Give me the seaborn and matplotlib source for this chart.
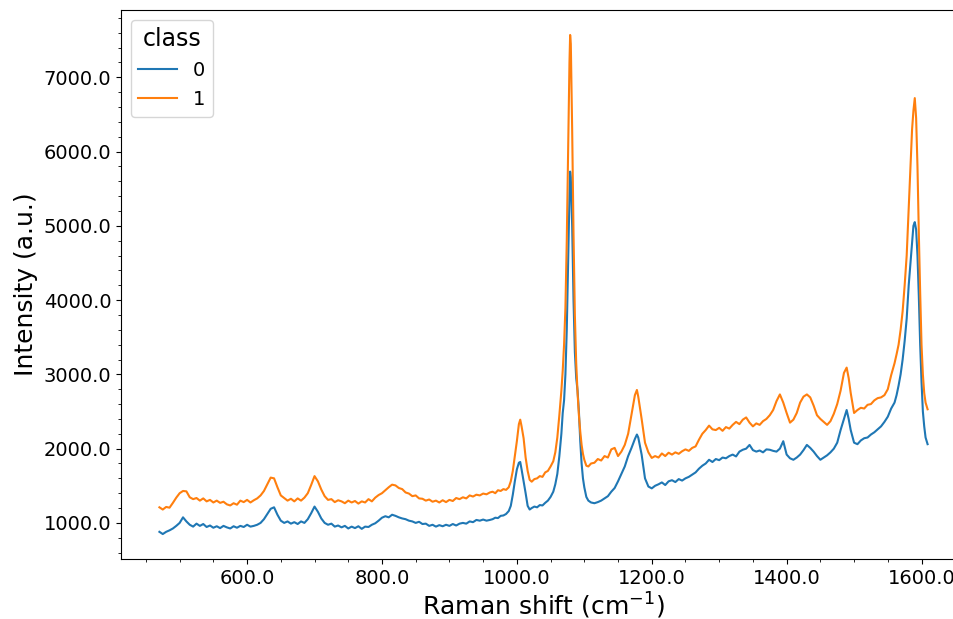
import numpy as np
import pandas as pd
import matplotlib
matplotlib.use("Agg")
import matplotlib.pyplot as plt
from matplotlib.ticker import MultipleLocator, FormatStrFormatter
import seaborn as sns

# Raman shift grid (cm^-1)
shift = [470, 475, 480, 485, 490, 495, 500, 505, 510, 515, 520, 525, 530, 535, 540, 545, 550, 555, 560, 565,
         570, 575, 580, 585, 590, 595, 600, 605, 610, 615, 620, 625, 630, 635, 640, 645, 650, 655, 660, 665,
         670, 675, 680, 685, 690, 695, 700, 705, 710, 715, 720, 725, 730, 735, 740, 745, 750, 755, 760, 765,
         770, 775, 780, 785, 790, 795, 800, 805, 810, 815, 820, 825, 830, 835, 840, 845, 850, 855, 860, 865,
         870, 875, 880, 885, 890, 895, 900, 905, 910, 915, 920, 925, 930, 935, 940, 945, 950, 955, 960,
         964, 968, 972, 976, 980, 984, 988, 991, 994, 997, 1000, 1003, 1005, 1007, 1010, 1013, 1016, 1019, 1022,
         1026, 1030, 1034, 1038, 1042, 1046, 1050, 1054, 1057, 1060, 1063, 1066, 1068, 1070, 1072, 1074, 1076,
         1078, 1079, 1080, 1082, 1084, 1086, 1088, 1090, 1092, 1094, 1096, 1098, 1100, 1103, 1106, 1110,
         1115, 1120, 1125, 1130, 1135, 1140, 1145, 1150, 1155, 1160, 1165, 1170, 1175, 1178, 1180, 1185, 1190,
         1195, 1200, 1205, 1210, 1215, 1220, 1225, 1230, 1235, 1240, 1245, 1250, 1255, 1260, 1265, 1270, 1275,
         1280, 1285, 1290, 1295, 1300, 1305, 1310, 1315, 1320, 1325, 1330, 1335, 1340, 1345, 1350, 1355, 1360,
         1365, 1370, 1375, 1380, 1385, 1390, 1395, 1400, 1405, 1410, 1415, 1420, 1425, 1430, 1435, 1440, 1445,
         1450, 1455, 1460, 1465, 1470, 1475, 1480, 1485, 1489, 1492, 1495, 1500, 1505, 1510, 1515, 1520, 1525,
         1530, 1535, 1540, 1545, 1550, 1555, 1560,
         1563, 1566, 1569, 1572, 1575, 1578, 1581, 1584, 1586, 1588, 1590, 1592, 1594, 1596, 1598, 1600, 1602,
         1604, 1606, 1609]

# class 0 mean spectrum (a.u.)
class0 = [880, 850, 880, 900, 925, 960, 1000, 1075, 1020, 975, 950, 990, 960, 985, 945, 965, 935, 955, 930, 960,
          940, 925, 955, 935, 960, 945, 975, 950, 960, 975, 1000, 1050, 1120, 1190, 1210, 1110, 1030, 1000, 1020, 990,
          1010, 985, 1020, 1000, 1050, 1130, 1220, 1150, 1060, 1000, 975, 990, 950, 965, 940, 960, 925, 950, 930, 955,
          920, 950, 945, 975, 995, 1030, 1070, 1090, 1075, 1110, 1095, 1075, 1060, 1050, 1030, 1020, 1000, 1015, 985, 990,
          960, 975, 950, 970, 955, 975, 960, 985, 965, 990, 1000, 990, 1020, 1010, 1040, 1030, 1045, 1030, 1040,
          1050, 1070, 1065, 1095, 1100, 1120, 1160, 1230, 1380, 1560, 1720, 1810, 1820, 1720, 1560, 1400, 1230, 1180, 1200,
          1220, 1210, 1240, 1235, 1270, 1300, 1350, 1420, 1520, 1660, 1900, 2200, 2480, 2650, 3000, 3600, 4500,
          5400, 5730, 5650, 5000, 4000, 3300, 2950, 2780, 2500, 2100, 1800, 1600, 1480, 1350, 1300, 1275,
          1265, 1280, 1300, 1330, 1360, 1420, 1470, 1560, 1660, 1760, 1900, 2010, 2130, 2190, 2150, 1920, 1600,
          1490, 1465, 1500, 1520, 1545, 1510, 1560, 1575, 1550, 1590, 1570, 1600, 1620, 1650, 1680, 1730, 1770,
          1800, 1850, 1820, 1860, 1845, 1880, 1870, 1900, 1920, 1895, 1960, 1985, 2000, 2050, 1980, 1960, 1975,
          1950, 1990, 1985, 1970, 1960, 2000, 2100, 1920, 1870, 1850, 1880, 1920, 1980, 2050, 2010, 1960, 1900,
          1850, 1880, 1910, 1950, 2000, 2080, 2250, 2400, 2520, 2400, 2250, 2080, 2060, 2110, 2140, 2150, 2190,
          2220, 2260, 2300, 2360, 2430, 2540, 2620,
          2720, 2850, 3000, 3200, 3450, 3750, 4200, 4550, 4800, 5000, 5050, 4950, 4600, 4050, 3400, 2900, 2500,
          2300, 2150, 2060]

# class 1 mean spectrum (a.u.)
class1 = [1210, 1180, 1215, 1205, 1270, 1340, 1400, 1430, 1425, 1345, 1320, 1335, 1300, 1330, 1290, 1310, 1275, 1300, 1270, 1285,
          1250, 1235, 1265, 1245, 1300, 1280, 1310, 1275, 1305, 1330, 1370, 1430, 1520, 1610, 1600, 1480, 1370, 1335, 1300, 1325,
          1290, 1330, 1300, 1340, 1400, 1510, 1630, 1560, 1450, 1360, 1310, 1320, 1280, 1305, 1290, 1265, 1300, 1275, 1295, 1260,
          1290, 1275, 1320, 1290, 1340, 1375, 1400, 1440, 1480, 1515, 1505, 1470, 1455, 1410, 1395, 1360, 1370, 1330, 1325, 1300,
          1315, 1285, 1300, 1275, 1305, 1280, 1310, 1295, 1335, 1320, 1345, 1330, 1370, 1355, 1380, 1370, 1395, 1385, 1410,
          1420, 1400, 1440, 1430, 1455, 1445, 1480, 1560, 1700, 1900, 2100, 2330, 2390, 2300, 2140, 1880, 1700, 1580, 1555,
          1590, 1600, 1630, 1620, 1680, 1700, 1760, 1830, 1950, 2150, 2450, 2780, 3050, 3400, 3900, 4800, 6000,
          7200, 7570, 7450, 6300, 4900, 3800, 3150, 2750, 2450, 2230, 2050, 1930, 1850, 1770, 1760, 1800,
          1810, 1860, 1840, 1900, 1880, 1990, 2010, 1900, 1960, 2050, 2200, 2460, 2720, 2790, 2700, 2400, 2080,
          1950, 1875, 1900, 1880, 1935, 1900, 1945, 1920, 1950, 1930, 1965, 1990, 1970, 2010, 2030, 2120, 2200,
          2250, 2310, 2260, 2250, 2280, 2240, 2290, 2270, 2320, 2360, 2330, 2390, 2420, 2350, 2300, 2340, 2320,
          2370, 2400, 2450, 2520, 2640, 2730, 2620, 2480, 2350, 2390, 2480, 2620, 2700, 2730, 2690, 2580, 2450,
          2400, 2360, 2320, 2370, 2470, 2600, 2780, 3020, 3091, 2950, 2750, 2480, 2520, 2550, 2540, 2590, 2600,
          2650, 2680, 2690, 2720, 2800, 2990, 3150,
          3270, 3400, 3600, 3850, 4200, 4600, 5250, 5900, 6300, 6550, 6720, 6450, 5800, 4900, 4100, 3400, 3000,
          2750, 2620, 2530]

class_labels = ["0", "1"]
colors = ["#1f77b4", "#ff7f0e"]

df = pd.DataFrame({
    "shift": shift * 2,
    "intensity": class0 + class1,
    "class": [class_labels[0]] * len(shift) + [class_labels[1]] * len(shift),
})

fig = plt.figure(figsize=(9.54, 6.19), dpi=100)
ax = fig.add_axes([121 / 954, 60 / 619, 845 / 954, 549 / 619])

sns.lineplot(data=df, x="shift", y="intensity", hue="class", hue_order=class_labels,
             palette=colors, estimator=None, linewidth=1.5, ax=ax)

ax.xaxis.set_major_locator(MultipleLocator(200))
ax.xaxis.set_minor_locator(MultipleLocator(50))
ax.yaxis.set_major_locator(MultipleLocator(1000))
ax.yaxis.set_minor_locator(MultipleLocator(200))
ax.xaxis.set_major_formatter(FormatStrFormatter("%.1f"))
ax.yaxis.set_major_formatter(FormatStrFormatter("%.1f"))
ax.tick_params(axis="both", which="major", labelsize=14)

ax.set_xlabel(r"Raman shift (cm$^{-1}$)", fontsize=18, labelpad=2)
ax.set_ylabel("Intensity (a.u.)", fontsize=18)

sns.move_legend(ax, "upper left", fontsize=14, title_fontsize=17)

fig.savefig("out.png", dpi=100)
